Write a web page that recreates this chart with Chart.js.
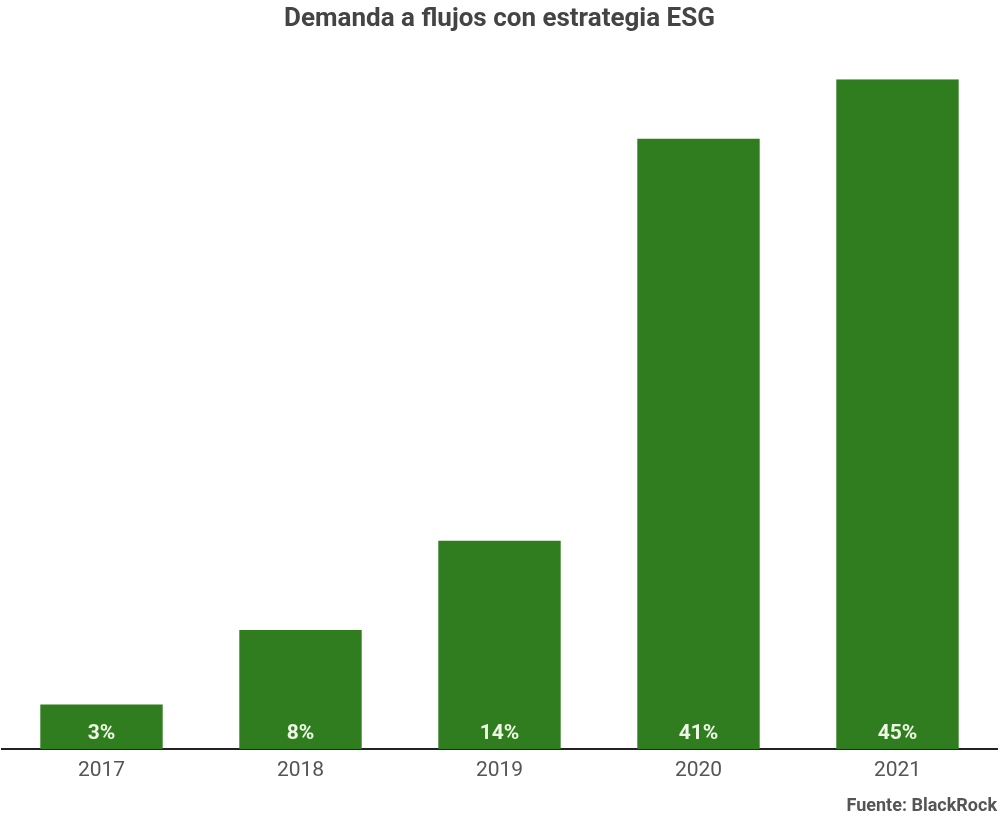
<!DOCTYPE html>
<html>
<head>
<meta charset="utf-8">
<script src="https://cdn.jsdelivr.net/npm/chart.js@4/dist/chart.umd.min.js"></script>
<style>
    html, body { margin: 0; padding: 0; background: #fff; }
    #wrap { width: 1000px; height: 823px; }
</style>
</head>
<body>
<div id="wrap"><canvas id="esgChart"></canvas></div>
<script>
// Datos del gráfico
const years = ['2017', '2018', '2019', '2020', '2021'];
const demandValues = [3, 8, 14, 41, 45];
const valueLabels = ['3%', '8%', '14%', '41%', '45%'];

// Etiquetas dentro de las barras, abajo
const barLabels = {
    id: 'barLabels',
    afterDatasetsDraw(chart) {
        const ctx = chart.ctx;
        const meta = chart.getDatasetMeta(0);
        ctx.save();
        ctx.font = 'bold 21px Roboto';
        ctx.fillStyle = '#eef8e4';
        ctx.textAlign = 'center';
        ctx.textBaseline = 'middle';
        meta.data.forEach((bar, i) => {
            ctx.fillText(valueLabels[i], bar.x, bar.base - 15);
        });
        ctx.restore();
    }
};

const ctx = document.getElementById('esgChart').getContext('2d');
new Chart(ctx, {
    type: 'bar',
    data: {
        labels: years,
        datasets: [{
            data: demandValues,
            backgroundColor: '#2f7d1f',
            borderWidth: 0,
            categoryPercentage: 1,
            barPercentage: 0.615
        }]
    },
    plugins: [barLabels],
    options: {
        responsive: true,
        maintainAspectRatio: false,
        animation: false,
        layout: { padding: { left: 2, right: 3, bottom: 6 } },
        plugins: {
            legend: { display: false },
            tooltip: { enabled: false },
            title: {
                display: true,
                text: 'Demanda a flujos con estrategia ESG',
                color: '#444',
                font: { family: 'Roboto', size: 26, weight: 'bold' },
                padding: { top: 4, bottom: 44 }
            },
            subtitle: {
                display: true,
                position: 'bottom',
                align: 'end',
                text: 'Fuente: BlackRock',
                color: '#555',
                font: { family: 'Roboto', size: 18, weight: 'bold' },
                padding: { top: 3, bottom: 0 }
            }
        },
        scales: {
            x: {
                grid: { display: false, drawTicks: false },
                border: { display: true, color: '#222', width: 2 },
                ticks: {
                    color: '#555',
                    padding: 9,
                    font: { family: 'Roboto', size: 21 }
                }
            },
            y: {
                display: false,
                min: 0,
                max: 45
            }
        }
    }
});
</script>
</body>
</html>
